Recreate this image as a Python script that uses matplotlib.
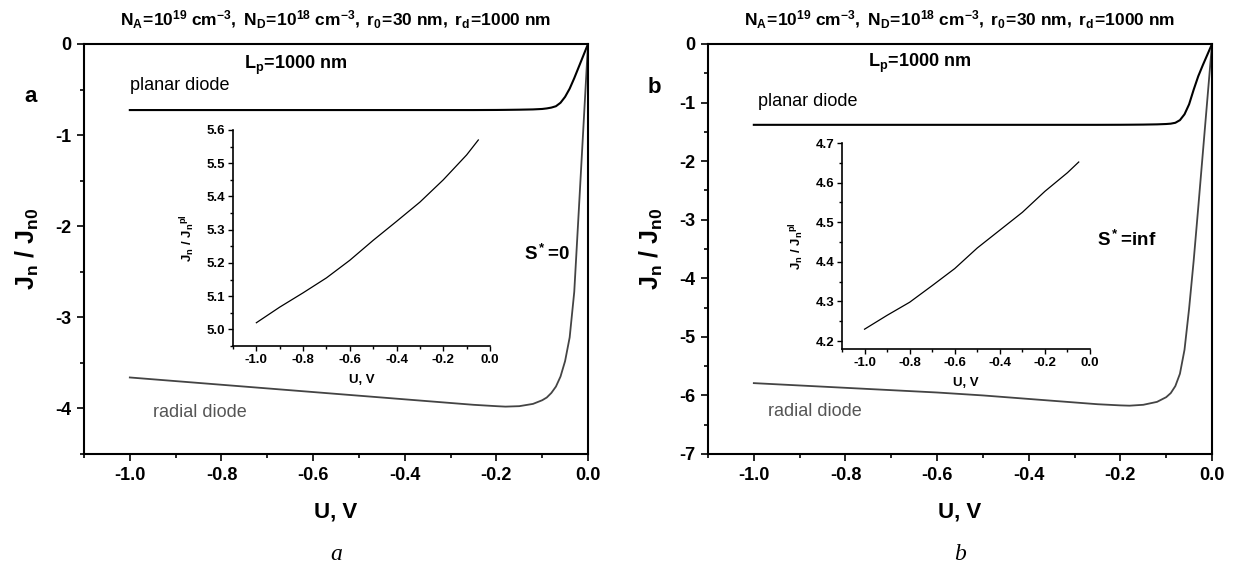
import matplotlib
matplotlib.use("Agg")
import matplotlib.pyplot as plt
from matplotlib.ticker import MultipleLocator, FormatStrFormatter

plt.rcParams['font.family'] = ['Liberation Sans', 'DejaVu Sans']
plt.rcParams['mathtext.fontset'] = 'custom'
plt.rcParams['mathtext.rm'] = 'Liberation Sans'
plt.rcParams['mathtext.bf'] = 'Liberation Sans:bold'
plt.rcParams['mathtext.it'] = 'Liberation Sans:italic'
plt.rcParams['mathtext.default'] = 'bf'

# ---------------- data ----------------
U_main = [-1.0, -0.9, -0.8, -0.7, -0.6, -0.5, -0.4, -0.3, -0.25, -0.2, -0.18, -0.15,
          -0.12, -0.1, -0.09, -0.08, -0.07, -0.06, -0.05, -0.04, -0.03, -0.02, -0.01, 0.0]

planar_a = [-0.725, -0.725, -0.725, -0.725, -0.725, -0.725, -0.725, -0.725, -0.725, -0.724, -0.723,
            -0.721, -0.718, -0.713, -0.707, -0.698, -0.683, -0.645, -0.58, -0.49, -0.375, -0.25, -0.125, 0.0]
radial_a = [-3.66, -3.70, -3.74, -3.78, -3.82, -3.86, -3.90, -3.94, -3.96, -3.975, -3.98, -3.975,
            -3.95, -3.91, -3.88, -3.83, -3.76, -3.65, -3.48, -3.22, -2.72, -1.82, -0.91, 0.0]

planar_b = [-1.38, -1.38, -1.38, -1.38, -1.38, -1.38, -1.38, -1.38, -1.38, -1.379, -1.378,
            -1.376, -1.372, -1.366, -1.36, -1.345, -1.30, -1.20, -1.03, -0.78, -0.55, -0.36, -0.18, 0.0]
radial_b = [-5.79, -5.83, -5.87, -5.91, -5.95, -6.00, -6.06, -6.12, -6.15, -6.17, -6.175, -6.16,
            -6.11, -6.03, -5.96, -5.84, -5.63, -5.22, -4.52, -3.70, -2.79, -1.86, -0.93, 0.0]

U_inset = [-1.0, -0.9, -0.8, -0.7, -0.6, -0.5, -0.4, -0.3, -0.2, -0.1, -0.05]
ratio_a = [5.02, 5.067, 5.11, 5.155, 5.208, 5.268, 5.325, 5.383, 5.45, 5.525, 5.57]
ratio_b = [4.23, 4.265, 4.298, 4.34, 4.383, 4.435, 4.48, 4.525, 4.578, 4.625, 4.652]

# ---------------- figure ----------------
fig = plt.figure(figsize=(12.33, 5.70), dpi=100)

W, H = 1233.0, 570.0

def fr(x0, y0, x1, y1):
    return [x0 / W, 1 - y1 / H, (x1 - x0) / W, (y1 - y0) / H]

EQ = r'\!=\!'
title = (r'$N_A' + EQ + r'10^{19}\ cm^{-3},\ N_D' + EQ + r'10^{18}\ cm^{-3},\ r_0' + EQ +
         r'30\ nm,\ r_d' + EQ + r'1000\ nm$')

panels = [
    dict(rect=fr(84, 44, 588, 454), ymin=-4.5, planar=planar_a, radial=radial_a,
         inset=fr(233, 130, 490, 346), iy=(4.95, 5.6), ratio=ratio_a, letter='a',
         letter_y=0.871,
         s_text=r'$S^*' + EQ + r'0$', s_pos=(-0.14, -2.3), lp_pos=(-0.75, -0.24),
         pl_pos=(-1.0, -0.55), rd_pos=(-0.95, -4.05), cap='a'),
    dict(rect=fr(708, 44, 1212, 454), ymin=-7.0, planar=planar_b, radial=radial_b,
         inset=fr(842, 143, 1090, 349), iy=(4.18, 4.7), ratio=ratio_b, letter='b',
         letter_y=0.895,
         s_text=r'$S^*' + EQ + r'inf$', s_pos=(-0.25, -3.35), lp_pos=(-0.75, -0.33),
         pl_pos=(-0.99, -1.13), rd_pos=(-0.97, -6.27), cap='b'),
]

for p in panels:
    ax = fig.add_axes(p['rect'])
    ax.plot(U_main, p['planar'], color='black', lw=1.5)
    ax.plot(U_main, p['radial'], color='#444444', lw=1.3)
    ax.set_xlim(-1.1, 0.0)
    ax.set_ylim(p['ymin'], 0.0)
    ax.xaxis.set_major_locator(MultipleLocator(0.2))
    ax.xaxis.set_minor_locator(MultipleLocator(0.1))
    ax.yaxis.set_major_locator(MultipleLocator(1))
    ax.yaxis.set_minor_locator(MultipleLocator(0.5))
    ax.xaxis.set_major_formatter(FormatStrFormatter('%.1f'))
    ax.yaxis.set_major_formatter(FormatStrFormatter('%d'))
    ax.tick_params(which='both', direction='out', top=False, right=False, width=1.2)
    ax.tick_params(which='major', length=5, labelsize=13, pad=4)
    ax.tick_params(which='minor', length=3)
    for lab in ax.get_xticklabels() + ax.get_yticklabels():
        lab.set_fontweight('bold')
    for s in ax.spines.values():
        s.set_linewidth(1.5)
    ax.set_xlabel('U, V', fontsize=16, fontweight='bold', labelpad=13)
    ax.set_ylabel(r'$J_n\ /\ J_{n0}$', fontsize=18, labelpad=10)
    ax.set_title(title, fontsize=12.5, pad=13)
    ax.text(p['lp_pos'][0], p['lp_pos'][1], r'$L_p' + EQ + r'1000\ nm$', fontsize=13,
            ha='left', va='center')
    ax.text(p['pl_pos'][0], p['pl_pos'][1], 'planar diode', fontsize=13, ha='left', va='bottom')
    ax.text(p['rd_pos'][0], p['rd_pos'][1], 'radial diode', fontsize=13, ha='left', va='center',
            color='#555555')
    ax.text(p['s_pos'][0], p['s_pos'][1], p['s_text'], fontsize=13.5, ha='left', va='center')
    ax.text(-0.107, p['letter_y'], p['letter'], transform=ax.transAxes, fontsize=16,
            fontweight='bold', ha='center', va='center')
    ax.text(0.5, -0.245, p['cap'], transform=ax.transAxes, fontsize=17, ha='center', va='center',
            family=['Liberation Serif'], style='italic')

    ia = fig.add_axes(p['inset'])
    ia.plot(U_inset, p['ratio'], color='black', lw=0.9)
    ia.set_xlim(-1.1, 0.0)
    ia.set_ylim(*p['iy'])
    ia.spines['top'].set_visible(False)
    ia.spines['right'].set_visible(False)
    for s in ('left', 'bottom'):
        ia.spines[s].set_linewidth(1.2)
    ia.xaxis.set_major_locator(MultipleLocator(0.2))
    ia.xaxis.set_minor_locator(MultipleLocator(0.1))
    ia.yaxis.set_major_locator(MultipleLocator(0.1))
    ia.yaxis.set_minor_locator(MultipleLocator(0.05))
    ia.xaxis.set_major_formatter(FormatStrFormatter('%.1f'))
    ia.yaxis.set_major_formatter(FormatStrFormatter('%.1f'))
    ia.tick_params(which='both', direction='out', width=1.0)
    ia.tick_params(which='major', length=3.5, labelsize=9.5, pad=2)
    ia.tick_params(which='minor', length=2)
    for lab in ia.get_xticklabels() + ia.get_yticklabels():
        lab.set_fontweight('bold')
    ia.set_xlabel('U, V', fontsize=9.5, fontweight='bold', labelpad=6)
    ia.set_ylabel(r'$J_n\ /\ J_n{}^{pl}$', fontsize=9.5, labelpad=7)

fig.savefig('out.png', dpi=100)
